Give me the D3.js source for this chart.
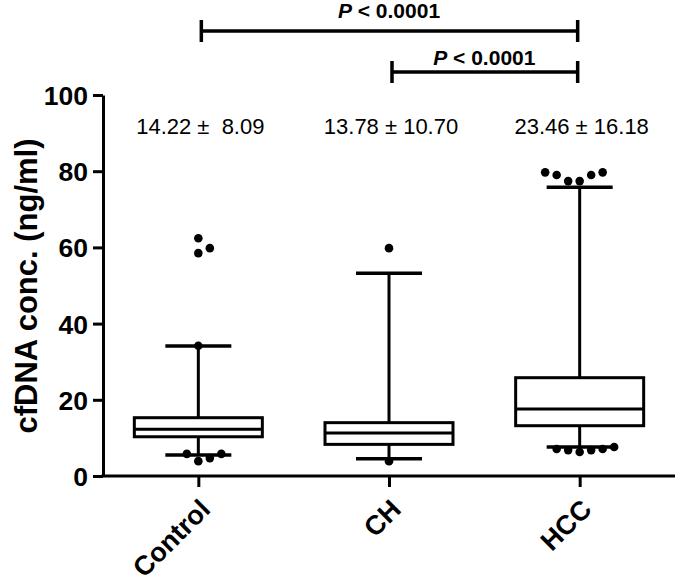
<!DOCTYPE html>
<html lang="en">
<head>
  <meta charset="UTF-8" />
  <title>cfDNA concentration</title>
  <script src="https://d3js.org/d3.v7.min.js"></script>
  <style>
    body {
      margin: 0;
      background: #fff;
      font-family: Arial, 'Liberation Sans', sans-serif;
    }
    svg { display: block; }
    .axis path, .axis line { stroke: #000; stroke-width: 3px; }
    .axis text { font-family: Arial, 'Liberation Sans', sans-serif; font-weight: bold; fill: #000; }
  </style>
</head>
<body>
<svg width="680" height="588"></svg>
<script>
  // groups and box statistics (ng/ml)
  const groups = ["Control", "CH", "HCC"];
  const whiskerLow = [5.5, 4.5, 7.6];
  const q1 = [10.3, 8.3, 13.2];
  const medians = [12.3, 11.3, 17.6];
  const q3 = [15.3, 14.0, 25.8];
  const whiskerHigh = [34.1, 53.2, 75.8];
  const meanLabels = ["14.22 \u00b1  8.09", "13.78 \u00b1 10.70", "23.46 \u00b1 16.18"];

  // points outside the whiskers: [group index, value, side-by-side slot]
  const outliers = [
    [0, 62.4, 0], [0, 59.8, 1], [0, 58.5, 0], [0, 34.2, 0],
    [0, 5.8, -1], [0, 3.9, 0], [0, 4.7, 1], [0, 5.8, 2],
    [1, 59.8, 0], [1, 3.9, 0],
    [2, 79.7, -3], [2, 79.0, -2], [2, 77.4, -1], [2, 77.4, 0], [2, 79.0, 1], [2, 79.7, 2],
    [2, 7.1, -2], [2, 6.8, -1], [2, 6.3, 0], [2, 6.8, 1], [2, 7.1, 2], [2, 7.6, 3]
  ];

  // significance brackets: [from group, to group, label]
  const comparisons = [
    [0, 2, "< 0.0001"],
    [1, 2, "< 0.0001"]
  ];

  const yTicks = [0, 20, 40, 60, 80, 100];

  const svg = d3.select("svg");

  const x = d3.scalePoint()
    .domain(groups)
    .range([103, 675])
    .padding(0.5);

  const y = d3.scaleLinear()
    .domain([0, 100])
    .range([476, 95]);

  const boxW = 128, capW = 66, slot = 11.5;

  // boxes
  const box = svg.append("g")
    .selectAll("g")
    .data(groups)
    .enter().append("g");

  box.append("line")
    .attr("x1", d => x(d)).attr("x2", d => x(d))
    .attr("y1", (d, i) => y(q3[i])).attr("y2", (d, i) => y(whiskerHigh[i]))
    .attr("stroke", "#000").attr("stroke-width", 3);

  box.append("line")
    .attr("x1", d => x(d)).attr("x2", d => x(d))
    .attr("y1", (d, i) => y(q1[i])).attr("y2", (d, i) => y(whiskerLow[i]))
    .attr("stroke", "#000").attr("stroke-width", 3);

  box.append("line")
    .attr("x1", d => x(d) - capW / 2).attr("x2", d => x(d) + capW / 2)
    .attr("y1", (d, i) => y(whiskerHigh[i])).attr("y2", (d, i) => y(whiskerHigh[i]))
    .attr("stroke", "#000").attr("stroke-width", 3.5);

  box.append("line")
    .attr("x1", d => x(d) - capW / 2).attr("x2", d => x(d) + capW / 2)
    .attr("y1", (d, i) => y(whiskerLow[i])).attr("y2", (d, i) => y(whiskerLow[i]))
    .attr("stroke", "#000").attr("stroke-width", 3.5);

  box.append("rect")
    .attr("x", d => x(d) - boxW / 2)
    .attr("width", boxW)
    .attr("y", (d, i) => y(q3[i]))
    .attr("height", (d, i) => y(q1[i]) - y(q3[i]))
    .attr("fill", "#fff")
    .attr("stroke", "#000").attr("stroke-width", 3);

  box.append("line")
    .attr("x1", d => x(d) - boxW / 2).attr("x2", d => x(d) + boxW / 2)
    .attr("y1", (d, i) => y(medians[i])).attr("y2", (d, i) => y(medians[i]))
    .attr("stroke", "#000").attr("stroke-width", 3);

  // outlying points
  svg.append("g")
    .selectAll("circle")
    .data(outliers)
    .enter().append("circle")
    .attr("cx", d => x(groups[d[0]]) + d[2] * slot)
    .attr("cy", d => y(d[1]))
    .attr("r", 4.3)
    .attr("fill", "#000");

  // mean ± SD labels
  svg.append("g")
    .selectAll("text")
    .data(meanLabels)
    .enter().append("text")
    .attr("x", (d, i) => x(groups[i]) + 2)
    .attr("y", 134)
    .attr("text-anchor", "middle")
    .attr("font-size", 22)
    .style("white-space", "pre")
    .attr("xml:space", "preserve")
    .text(d => d);

  // axes
  svg.append("g")
    .attr("class", "axis")
    .attr("transform", "translate(103,0)")
    .call(d3.axisLeft(y).tickValues(yTicks).tickSize(10).tickSizeOuter(0).tickPadding(5))
    .selectAll("text")
    .attr("font-size", 26.5)
    .attr("dy", "0.36em");

  const xAxis = svg.append("g")
    .attr("class", "axis")
    .attr("transform", "translate(0,476)")
    .call(d3.axisBottom(x).tickSize(11).tickSizeOuter(0));

  xAxis.select(".domain").attr("d", "M101.5,0H675");

  xAxis.selectAll("text")
    .attr("font-size", 27)
    .attr("text-anchor", "end")
    .attr("y", 0)
    .attr("dy", 0)
    .attr("transform", "translate(13,35) rotate(-45)");

  svg.append("text")
    .attr("transform", "translate(37,286) rotate(-90)")
    .attr("text-anchor", "middle")
    .attr("font-size", 31)
    .attr("font-weight", "bold")
    .text("cfDNA conc. (ng/ml)");

  // significance brackets
  const brackets = svg.append("g")
    .selectAll("g")
    .data(comparisons)
    .enter().append("g");

  const bracketY = [31, 72];

  brackets.append("path")
    .attr("d", (d, i) => {
      const x1 = x(groups[d[0]]) + 3, x2 = x(groups[d[1]]) - 2, yy = bracketY[i];
      return `M${x1},${yy - 11}V${yy + 11}M${x1},${yy}H${x2}M${x2},${yy - 11}V${yy + 11}`;
    })
    .attr("fill", "none")
    .attr("stroke", "#000")
    .attr("stroke-width", 3.5);

  const label = brackets.append("text")
    .attr("x", d => (x(groups[d[0]]) + x(groups[d[1]])) / 2)
    .attr("y", (d, i) => bracketY[i] - (i === 0 ? 13 : 7))
    .attr("text-anchor", "middle")
    .attr("font-size", 21)
    .attr("font-weight", "bold");

  label.append("tspan").attr("font-style", "italic").text("P");
  label.append("tspan").text(d => " " + d[2]);
</script>
</body>
</html>
